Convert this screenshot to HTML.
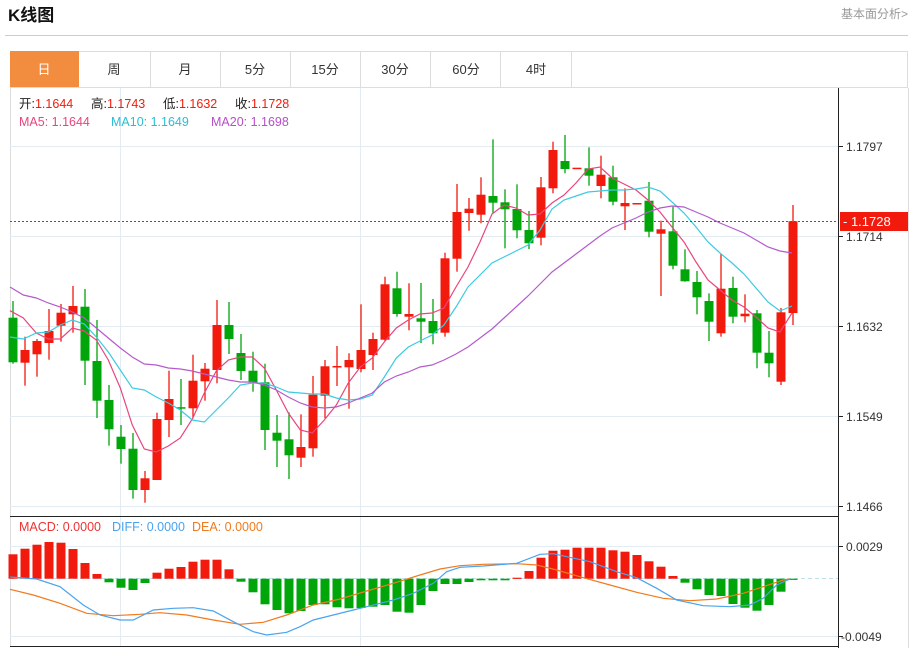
<!DOCTYPE html>
<html><head><meta charset="utf-8">
<style>
body{margin:0;background:#fff;width:913px;height:648px;overflow:hidden;font-family:"Liberation Sans","Noto Sans CJK SC",sans-serif;}
svg{position:absolute;left:0;top:0}
</style></head>
<body>
<svg id="s" width="913" height="648" xmlns="http://www.w3.org/2000/svg" font-family="Liberation Sans, Noto Sans CJK SC, sans-serif">
<text x="8" y="21" font-size="17" font-weight="bold" fill="#111">K线图</text>
<text x="908" y="18" font-size="12" fill="#999" text-anchor="end">基本面分析&gt;</text>
<line x1="5" y1="35.5" x2="908" y2="35.5" stroke="#ccc" stroke-width="1"/>
<rect x="10.5" y="51.5" width="897" height="36" fill="#fff" stroke="#ddd"/>
<rect x="10" y="51" width="69" height="36" fill="#f28c3f"/>
<g stroke="#ddd"><line x1="150.5" y1="52" x2="150.5" y2="87"/><line x1="220.5" y1="52" x2="220.5" y2="87"/><line x1="290.5" y1="52" x2="290.5" y2="87"/><line x1="360.5" y1="52" x2="360.5" y2="87"/><line x1="430.5" y1="52" x2="430.5" y2="87"/><line x1="500.5" y1="52" x2="500.5" y2="87"/><line x1="571.5" y1="52" x2="571.5" y2="87"/></g>
<g font-size="13" fill="#333" text-anchor="middle"><text x="44" y="74" fill="#fff">日</text><text x="114" y="74">周</text><text x="185" y="74">月</text><text x="255" y="74">5分</text><text x="325" y="74">15分</text><text x="395" y="74">30分</text><text x="466" y="74">60分</text><text x="536" y="74">4时</text></g>
<line x1="10.5" y1="88" x2="10.5" y2="646" stroke="#ddd"/>
<line x1="908.5" y1="88" x2="908.5" y2="648" stroke="#ddd"/>
<g stroke="#e3ecf2" stroke-width="1">
<line x1="10" y1="146.5" x2="838" y2="146.5"/><line x1="10" y1="236.5" x2="838" y2="236.5"/><line x1="10" y1="326.5" x2="838" y2="326.5"/><line x1="10" y1="416.5" x2="838" y2="416.5"/><line x1="10" y1="506.5" x2="838" y2="506.5"/>
<line x1="10" y1="546.5" x2="838" y2="546.5"/><line x1="10" y1="636.5" x2="838" y2="636.5"/>
<line x1="120.5" y1="88" x2="120.5" y2="646"/><line x1="360.5" y1="88" x2="360.5" y2="646"/>
</g>
<line x1="10" y1="578.5" x2="838" y2="578.5" stroke="#bfe0ee" stroke-dasharray="4,3"/>
<g id="plot"></g>
<line x1="10" y1="221.5" x2="838" y2="221.5" stroke="#f21a0c" stroke-dasharray="2,2"/>
<line x1="10" y1="516.5" x2="838" y2="516.5" stroke="#222"/>
<line x1="10" y1="646.5" x2="838" y2="646.5" stroke="#222"/>
<line x1="838.5" y1="88" x2="838.5" y2="648" stroke="#222"/>
<g stroke="#222"><line x1="838" y1="146.5" x2="843" y2="146.5"/><line x1="838" y1="236.5" x2="843" y2="236.5"/><line x1="838" y1="326.5" x2="843" y2="326.5"/><line x1="838" y1="416.5" x2="843" y2="416.5"/><line x1="838" y1="506.5" x2="843" y2="506.5"/><line x1="838" y1="546.5" x2="843" y2="546.5"/><line x1="838" y1="636.5" x2="843" y2="636.5"/></g>
<g font-size="12" fill="#333"><text x="846" y="151">1.1797</text><text x="846" y="241">1.1714</text><text x="846" y="331">1.1632</text><text x="846" y="421">1.1549</text><text x="846" y="511">1.1466</text><text x="846" y="551">0.0029</text><text x="841" y="641">-0.0049</text></g>
<rect x="840" y="212" width="68" height="19" fill="#f21a0c"/>
<text x="843" y="226" font-size="13" fill="#fff">- 1.1728</text>
<g font-size="12.5">
<text x="19" y="108" fill="#222">开:<tspan fill="#f21a0c">1.1644</tspan></text>
<text x="91" y="108" fill="#222">高:<tspan fill="#f21a0c">1.1743</tspan></text>
<text x="163" y="108" fill="#222">低:<tspan fill="#f21a0c">1.1632</tspan></text>
<text x="235" y="108" fill="#222">收:<tspan fill="#f21a0c">1.1728</tspan></text>
<text x="19" y="126" fill="#e9457d">MA5: 1.1644</text>
<text x="111" y="126" fill="#2bbdd6">MA10: 1.1649</text>
<text x="211" y="126" fill="#b64fc8">MA20: 1.1698</text>
<text x="19" y="531" fill="#e33">MACD: 0.0000</text>
<text x="112" y="531" fill="#4aa3ee">DIFF: 0.0000</text>
<text x="192" y="531" fill="#f07a1e">DEA: 0.0000</text></g>
</svg>
<script>
var R='#f21a0c',G='#00a50a';
var C=[
['g',317.7,362.3,301,363.7],['r',350,362.7,336.7,385.7],['r',341,354.3,339,376.7],['r',331,343,309,359.7],['r',312.7,325.7,304,341.7],['r',306,314.3,286,332.7],['g',306.7,360.7,289,385],['g',361,400.7,320,418],['g',400,429.3,385,445.7],['g',436.7,449,425,463.7],
['g',448.7,490,433,498.7],['r',478.3,490,471,502.7],['r',419,480,412.7,480],['r',399,420,370.7,437],['g',407.2,408.2,379,425],['r',380.7,408.3,354.7,418],['r',368.7,381.3,363,400.7],['r',325,370,300,383.3],['g',325,339,302,354],['g',353,371,334,380],
['g',370.7,382.7,351.7,391.7],['g',382.3,430,363.7,450],['g',432.7,440.7,415,467],['g',439.3,455.3,412.3,479],['r',447,457.7,414.3,467],['r',394.7,448.3,376,456.7],['r',366.3,395.7,360,418.3],['r',366,367.5,346,386],['r',360,367.3,353.3,408.7],['r',350,369,304.3,372.3],
['r',339,355,332.7,370],['r',284.3,339.7,276.7,341],['g',288.3,314,271.7,316.7],['r',314,316.7,283.3,330.3],['g',318.3,321.7,283,343],['g',321,333.3,299,344.3],['r',258.3,332.7,252.7,336.7],['r',212,258.7,184,271.7],['r',208.7,213,198,230.7],['r',194.7,214.7,177.3,223.3],
['g',196,202.7,139.3,213.3],['g',202.3,209.3,189.3,248.3],['g',209,230.3,184.3,238.3],['g',230,243.3,211,249],['r',187.3,237.7,177,245.3],['r',150,188.3,141.7,193.3],['g',161,169,135,173.3],['r',167.7,169,168,169],['g',168.3,175.7,147.3,185.7],['r',174.7,186,155.7,198.3],
['g',177.3,201.7,165.7,205.3],['r',203,206.3,188.3,230],['r',203,204.5,203,204.5],['g',200.7,231.7,182,237.3],['r',229.3,233.7,220.7,296],['g',231.3,265.7,206.7,269.3],['g',269.3,281.3,249.3,281.7],['g',282,297.3,271,314.3],['g',301,321.7,293.3,341],['r',288.7,333.3,254,336.7],
['g',288,316.7,276.7,323.3],['r',313.7,316.3,294.3,322.3],['g',313.3,352.7,310,368.3],['g',352.7,363.3,331,377.3],['r',312.3,381.7,308,385],['r',221.3,313,205,325]];
var H=[554.3,548.7,544.7,542,542.7,549,563,574,582.3,587.7,590,583,572.7,568.7,567,561.7,559.7,559.7,569.3,581.7,592.3,604.3,610,613.3,611,605,604.3,607.3,608.3,608,606.7,605,611.7,612.7,605,591,584,584,582,580.3,580.3,580.3,577.7,571,557.7,550.7,549.7,547.7,547.7,547.7,550.3,551.7,555,561.3,566.7,576,582.7,589.3,595,596,604,607.7,610.7,605,591.7,578.7];
var s='',Z=578.7;
for(var i=0;i<66;i++){var x=13+i*12,h=H[i],c=h<Z?R:G,t=Math.min(h,Z),b=Math.max(h,Z);if(b-t<1.2){b=t+1.2;}
s+='<rect x="'+(x-4.5)+'" y="'+t+'" width="9" height="'+(b-t)+'" fill="'+c+'"/>';}
for(var i=0;i<66;i++){var x=13+i*12,d=C[i],c=d[0]=='r'?R:G;
s+='<line x1="'+x+'" y1="'+d[3]+'" x2="'+x+'" y2="'+d[4]+'" stroke="'+c+'" stroke-width="1.3"/>';
var h=Math.max(d[2]-d[1],1.5);s+='<rect x="'+(x-4.5)+'" y="'+d[1]+'" width="9" height="'+h+'" fill="'+c+'"/>';}
function pl(pts,col,ox,oy,sc){var p=[];for(var i=0;i<pts.length;i+=2)p.push((ox+pts[i]/sc).toFixed(1)+','+(pts[i+1]).toFixed(1));return p.join(' ');}
var ma5a=[30,310.7,70,318,109,333,145,339,181,339,217,328,253,331,289,340,325,360,361,388,397,425,433,449,469,452,505,446,541,438,577,419,613,393,649,371,685,360,721,357,757,357,793,368,829,390,865,413,901,430,937,433,973,420,1009,405,1045,383,1081,367,1117,358,1153,342,1189,328,1225,320,1260,314];
var ma5b=[36,313,72,308,108,287,144,267,180,242,216,214,252,205,288,208,324,215,360,214,396,203,432,195,468,183,504,169,540,167,576,178,612,184,648,190,684,200,720,212,756,227,792,242,828,262,864,280,900,290,936,300,972,307,1008,317,1044,328,1080,332,1116,313];
var m10a=[30,337,70,339,109,333,145,332,181,325,217,320,253,324,289,337,325,352,361,370,397,388,433,390,469,397,505,403,541,410,577,420,613,422,649,410,685,398,721,385,757,383,793,383,829,387,865,392,901,393,937,394,973,394,1009,398,1045,400,1081,399,1117,395,1153,377,1189,358,1225,347,1260,341];
var m10b=[36,335,72,325,108,307,144,287,180,275,216,263,252,257,288,251,324,245,360,230,396,209,432,200,468,196,504,192,540,191,576,190,612,190,648,189,684,187,720,191,756,202,792,213,828,227,864,242,900,253,936,263,972,274,1008,288,1044,302,1080,311,1116,306];
var m20a=[30,287,70,295,109,298,145,303,181,307,217,312,253,318,289,328,325,338,361,348,397,357,433,364,469,365,505,368,541,369,577,371,613,374,649,377,685,380,721,382,757,382,793,385,829,390,865,397,901,403,937,407,973,408,1009,407,1045,403,1081,398,1117,393,1153,382,1189,376,1225,372,1260,367];
var m20b=[36,365,72,360,108,354,144,347,180,338,216,329,252,318,288,307,324,296,360,284,396,272,432,263,468,254,504,245,540,236,576,228,612,223,648,218,684,212,720,208,756,206,792,207,828,212,864,217,900,223,936,228,972,233,1008,240,1044,247,1080,251,1116,253];
function two(a,b,col){return '<polyline fill="none" stroke="'+col+'" stroke-width="1.2" points="'+pl(a,col,0,0,3)+' '+pl(b,col,420,0,3)+'"/>';}
s+=two(ma5a,ma5b,'#e9457d')+two(m10a,m10b,'#3ccbe0')+two(m20a,m20b,'#b45bcc');
var da=[30,577,110,579,180,586.7,250,605,300,615,360,620,400,620,460,610,520,608.3,580,607.7,640,611,700,621.7,760,631.7,800,635,860,632.3,900,626.7,940,620,1000,615,1060,610,1100,606.7,1180,600,1240,593.3,1300,583.3,1340,571.7,1380,567.3];
var db=[100,566,200,563.3,270,554.3,310,553.7,350,556.7,420,561.7,500,571.7,560,577.7,620,588.3,680,600,760,605.7,840,606.7,900,605,940,598.3,980,585,1020,579];
var ea=[30,589.3,100,595,180,603.3,260,613.3,340,615.7,420,614.3,480,612.7,560,615,640,620,720,624.3,790,622.3,860,615,940,605,1020,599,1100,591,1180,583.3,1260,575,1320,569,1380,565.7];
var eb=[100,564.3,200,563.7,260,565,320,570,400,577.7,480,585,560,592.3,640,598.3,720,600.7,800,599,880,593.3,940,586.7,1000,580,1020,579];
s+='<polyline fill="none" stroke="#f07a1e" stroke-width="1.2" points="'+pl(ea,0,0,0,3)+' '+pl(eb,0,450,0,3)+'"/>';
s+='<polyline fill="none" stroke="#4aa3ee" stroke-width="1.2" points="'+pl(da,0,0,0,3)+' '+pl(db,0,450,0,3)+'"/>';
document.getElementById('plot').innerHTML=s;
</script>
</body></html>
